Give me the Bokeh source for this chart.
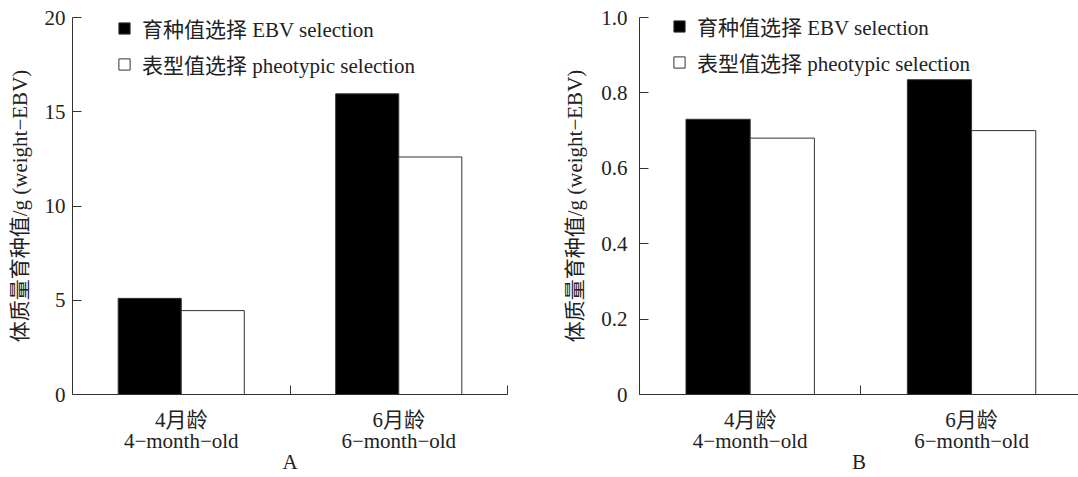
from bokeh.plotting import figure
from bokeh.models import FixedTicker, Range1d, ColumnDataSource, Legend, LegendItem
from bokeh.transform import dodge
from bokeh.layouts import row
from bokeh.embed import file_html
from bokeh.resources import INLINE

# ---- data ----
ages_cn = ["4月龄", "6月龄"]
ages_en = ["4−month−old", "6−month−old"]
series_names = ["育种值选择 EBV selection", "表型值选择 pheotypic selection"]
ebv_A = [5.1, 15.95]
pheno_A = [4.45, 12.6]
ebv_B = [0.73, 0.835]
pheno_B = [0.68, 0.70]
yticks_A = [0, 5, 10, 15, 20]
yticks_B = [0, 0.2, 0.4, 0.6, 0.8, 1.0]
yticklabels_B = ["0", "0.2", "0.4", "0.6", "0.8", "1.0"]
panel_labels = ["A", "B"]
y_title = "体质量育种值/g (weight−EBV)"

FONT = "Liberation Serif, Noto Sans CJK SC"
TXT = "#222222"
LINE = "#333333"
FS = "21px"
H = 477


def make_panel(ebv, pheno, yticks, label, width, bl, br, bt, frame_h,
               x_end, ytick_standoff, ylab_standoff, leg_loc, overrides=None):
    n = len(ages_cn)
    centers = [i + 0.5 for i in range(n)]
    bounds = [float(i) for i in range(1, n + 1)]
    src = ColumnDataSource(dict(x=centers, ebv=ebv, pheno=pheno))
    p = figure(width=width, height=H,
               x_range=Range1d(0, x_end), y_range=Range1d(yticks[0], yticks[-1]),
               output_backend="svg", toolbar_location=None,
               min_border_left=bl, min_border_right=br, min_border_top=bt,
               min_border_bottom=H - bt - frame_h)
    p.outline_line_color = None
    p.xgrid.visible = False
    p.ygrid.visible = False

    r1 = p.vbar(x=dodge("x", -0.145), top="ebv", width=0.29, source=src,
                fill_color="black", line_color=LINE, line_width=1)
    r2 = p.vbar(x=dodge("x", 0.145), top="pheno", width=0.29, source=src,
                fill_color="white", line_color=LINE, line_width=1)

    xa = p.xaxis[0]
    xa.ticker = FixedTicker(ticks=centers, minor_ticks=bounds)
    xa.major_label_overrides = {c: f"{cn}\n{en}" for c, cn, en in zip(centers, ages_cn, ages_en)}
    xa.major_tick_in = 0
    xa.major_tick_out = 0
    xa.minor_tick_in = 9
    xa.minor_tick_out = 0
    xa.minor_tick_line_color = LINE
    xa.axis_line_color = LINE
    xa.major_label_standoff = 13
    xa.major_label_text_font = FONT
    xa.major_label_text_font_size = FS
    xa.major_label_text_color = TXT
    xa.major_label_text_line_height = 0.9
    xa.axis_label = label
    xa.axis_label_text_font = FONT
    xa.axis_label_text_font_size = FS
    xa.axis_label_text_font_style = "normal"
    xa.axis_label_text_color = TXT
    xa.axis_label_text_line_height = 1.0
    xa.axis_label_standoff = -6

    ya = p.yaxis[0]
    ya.ticker = FixedTicker(ticks=yticks, minor_ticks=[])
    if overrides:
        ya.major_label_overrides = overrides
    ya.major_tick_in = 9
    ya.major_tick_out = 0
    ya.minor_tick_in = 0
    ya.minor_tick_out = 0
    ya.major_tick_line_color = LINE
    ya.axis_line_color = LINE
    ya.major_label_standoff = ytick_standoff
    ya.major_label_text_font = FONT
    ya.major_label_text_font_size = FS
    ya.major_label_text_color = TXT
    ya.axis_label = y_title
    ya.axis_label_text_font = FONT
    ya.axis_label_text_font_size = FS
    ya.axis_label_text_font_style = "normal"
    ya.axis_label_text_color = TXT
    ya.axis_label_standoff = ylab_standoff

    legend = Legend(items=[LegendItem(label=series_names[0], renderers=[r1]),
                           LegendItem(label=series_names[1], renderers=[r2])],
                    location=leg_loc)
    legend.label_text_font = FONT
    legend.label_text_font_size = FS
    legend.label_text_color = TXT
    legend.glyph_width = 14
    legend.glyph_height = 14
    legend.label_height = 24
    legend.label_standoff = 11
    legend.spacing = 6
    legend.padding = 0
    legend.margin = 0
    legend.border_line_color = None
    legend.background_fill_alpha = 0
    p.add_layout(legend)
    return p


pA = make_panel(ebv_A, pheno_A, yticks_A, panel_labels[0], width=560,
                bl=72, br=53, bt=17, frame_h=377, x_end=2.0,
                ytick_standoff=7, ylab_standoff=10, leg_loc=(45, 315))
pB = make_panel(ebv_B, pheno_B, yticks_B, panel_labels[1], width=518,
                bl=79, br=0, bt=16, frame_h=378, x_end=1.983,
                ytick_standoff=12, ylab_standoff=11, leg_loc=(33, 317),
                overrides=dict(zip(yticks_B, yticklabels_B)))

layout = row(pA, pB)
open("out.html", "w").write(file_html(layout, INLINE))
